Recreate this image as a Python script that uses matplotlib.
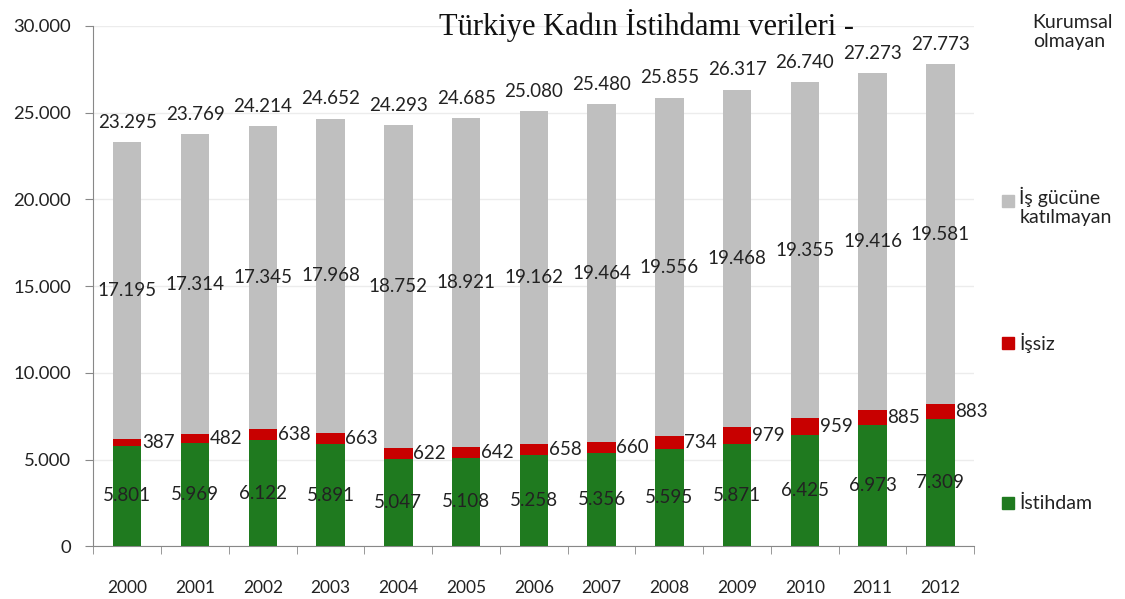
import numpy as np
from matplotlib import pyplot as plt
from matplotlib.patches import Rectangle

years = ['2000', '2001', '2002', '2003', '2004', '2005', '2006',
         '2007', '2008', '2009', '2010', '2011', '2012']
istihdam = [5801, 5969, 6122, 5891, 5047, 5108, 5258, 5356, 5595, 5871, 6425, 6973, 7309]
issiz = [387, 482, 638, 663, 622, 642, 658, 660, 734, 979, 959, 885, 883]
katilmayan = [17195, 17314, 17345, 17968, 18752, 18921, 19162, 19464, 19556, 19468, 19355, 19416, 19581]
kurumsal = [23295, 23769, 24214, 24652, 24293, 24685, 25080, 25480, 25855, 26317, 26740, 27273, 27773]

c_green = '#1f7a1f'
c_red = '#c80000'
c_grey = '#bfbfbf'
c_txt = '#222222'


def fmt(v):
    # Turkish thousands separator
    return '{:,}'.format(v).replace(',', '.')


plt.rcParams['font.family'] = ['Lato', 'DejaVu Sans']
fig = plt.figure(figsize=(11.25, 5.99), dpi=100)
ax = fig.add_axes([0.083, 0.088, 0.783, 0.869])

x = np.arange(len(years))
w = 0.42
bottom2 = np.array(istihdam)
bottom3 = bottom2 + np.array(issiz)

ax.bar(x, istihdam, w, color=c_green, zorder=3)
ax.bar(x, issiz, w, bottom=bottom2, color=c_red, zorder=3)
ax.bar(x, np.array(kurumsal) - bottom3, w, bottom=bottom3, color=c_grey, zorder=3)

for i in range(len(years)):
    ax.text(x[i], istihdam[i] / 2, fmt(istihdam[i]), ha='center', va='center',
            fontsize=13.5, color=c_txt, zorder=4)
    ax.text(x[i] + w / 2 + 0.01, bottom2[i] + issiz[i] / 2, fmt(issiz[i]), ha='left',
            va='center', fontsize=13.5, color=c_txt, zorder=4)
    ax.text(x[i], (bottom3[i] + kurumsal[i]) / 2, fmt(katilmayan[i]), ha='center',
            va='center', fontsize=13.5, color=c_txt, zorder=4)
    ax.text(x[i], kurumsal[i] + 650, fmt(kurumsal[i]), ha='center', va='bottom',
            fontsize=13.5, color=c_txt, zorder=4)

ax.set_xlim(-0.5, len(years) - 0.5)
ax.set_ylim(0, 30000)
ax.set_yticks(np.arange(0, 30001, 5000))
ax.set_yticklabels([fmt(v) for v in range(0, 30001, 5000)], fontsize=13.3, color=c_txt)
ax.set_xticks(x)
ax.set_xticklabels(years, fontsize=12.5, color=c_txt)
ax.set_xticks(np.arange(-0.5, len(years), 1), minor=True)
ax.tick_params(axis='x', which='major', length=0, pad=24)
ax.tick_params(axis='x', which='minor', length=6, color='#888888', direction='out')
ax.tick_params(axis='y', length=6, color='#888888', direction='out', pad=10)
ax.grid(axis='y', color='#ececec', linewidth=1, zorder=0)
for s in ['top', 'right']:
    ax.spines[s].set_visible(False)
for s in ['left', 'bottom']:
    ax.spines[s].set_color('#888888')

fig.text(0.575, 0.957, 'Türkiye Kadın İstihdamı verileri -', ha='center', va='center',
         fontsize=22, family='Liberation Serif', color='#111111')

# legend drawn by hand, Excel style
fig.text(0.918, 0.947, 'Kurumsal\nolmayan', ha='left', va='center', fontsize=14,
         color=c_txt, linespacing=1.15)
leg = [('İş gücüne\nkatılmayan', c_grey, 0.655, 0.665),
       ('İşsiz', c_red, 0.427, 0.427),
       ('İstihdam', c_green, 0.160, 0.160)]
for txt, col, yy, ym in leg:
    fig.patches.append(Rectangle((0.891, ym - 0.010), 0.0107, 0.020,
                                 transform=fig.transFigure, color=col))
    fig.text(0.906, yy, txt, ha='left', va='center', fontsize=14, color=c_txt,
             linespacing=1.15)

fig.savefig('out.png', dpi=100)
